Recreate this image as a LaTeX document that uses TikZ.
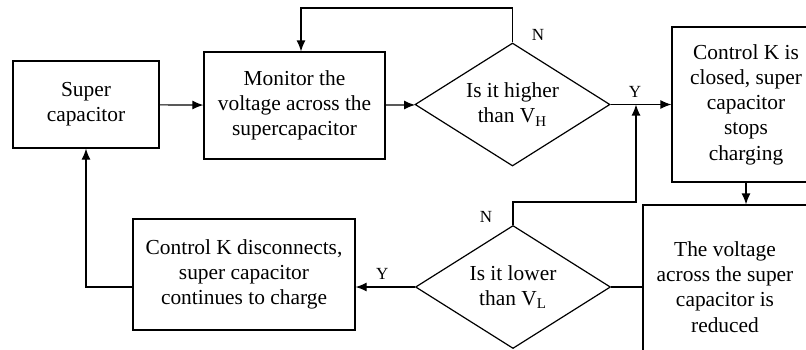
\documentclass[tikz,border=0pt]{standalone}
\usepackage{fontspec}
\setmainfont{Liberation Serif}
\usetikzlibrary{shapes.geometric, arrows.meta, positioning, calc}
\tikzset{
    base/.style={draw, line width=0.6pt, align=center, font=\fontsize{10.7}{12.6}\selectfont, inner sep=0pt},
    block/.style={base, rectangle},
    decision/.style={base, diamond, aspect=1.6, minimum width=97.5pt, minimum height=61.5pt},
    arrow/.style={-{Latex[length=5.5pt,width=4.5pt]}, line width=0.6pt},
    line/.style={line width=0.6pt},
    lbl/.style={font=\fontsize{8.5}{10}\selectfont}
}

\begin{document}
\begin{tikzpicture}[x=0.5pt, y=-0.5pt]
    \clip (0,0) rectangle (806,349);

    \node (supcap) [block, minimum width=73pt, minimum height=43.5pt] at (86,104.5) {Super\\capacitor};
    \node (monitor) [block, minimum width=90.5pt, minimum height=53.5pt] at (294.5,105.5) {Monitor the\\voltage across the\\supercapacitor};
    \node (higher) [decision] at (512.5,104.5) {Is it higher\\than V\textsubscript{H}};
    \node (closed) [block, minimum width=74pt, minimum height=77.5pt] at (746,104.5) {Control K is\\closed, super\\capacitor\\stops\\charging};
    \node (reduced) [block, minimum width=82pt, minimum height=82pt] at (725,287) {The voltage\\across the super\\capacitor is\\reduced};
    \node (lower) [decision] at (513,287) {Is it lower\\than V\textsubscript{L}};
    \node (disconnect) [block, minimum width=111pt, minimum height=55.5pt] at (244,274.5) {Control K disconnects,\\super capacitor\\continues to charge};

    \coordinate (topleft) at (301,8);
    \coordinate (midturn) at (636,202);

    \draw [arrow] (supcap) -- (monitor);
    \draw [arrow] (monitor) -- (higher);
    \draw [arrow] (higher.east) -- node[lbl, above, pos=0.4] {Y} (closed.west |- higher.east);
    \draw [arrow] (higher.north) |- (topleft) -- (topleft |- monitor.north);
    \node [lbl] at (538,35) {N};
    \draw [arrow] (closed) -- (closed |- reduced.north);
    \draw [line] (reduced.west |- lower.east) -- (lower.east);
    \draw [arrow] (lower.west) -- node[lbl, above, pos=0.55] {Y} (lower.west -| disconnect.east);
    \draw [arrow] (lower.north) |- (midturn) -- (midturn |- higher.east);
    \node [lbl] at (486,217) {N};
    \draw [arrow] (disconnect.west |- lower.west) -| (supcap.south);
\end{tikzpicture}
\end{document}
